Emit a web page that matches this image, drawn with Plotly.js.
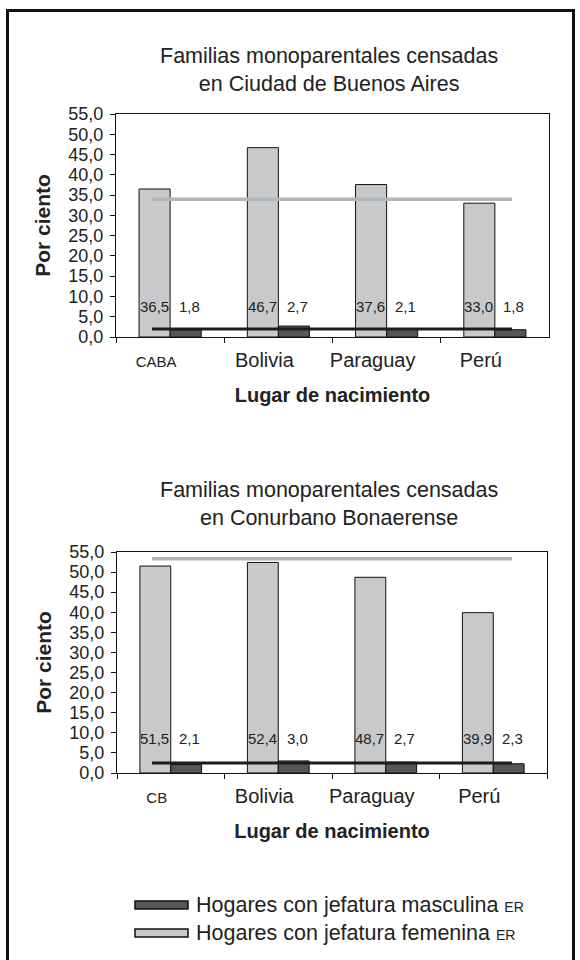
<!DOCTYPE html>
<html>
<head>
<meta charset="utf-8">
<script src="https://cdn.plot.ly/plotly-3.0.1.min.js"></script>
<style>
  html, body { margin: 0; padding: 0; background: #fff; }
  #wrap { position: relative; width: 580px; height: 960px; overflow: hidden; }
  #chart { position: absolute; left: 0; top: 0; width: 580px; height: 960px; }
  #frame {
    position: absolute; left: 6px; top: 9px; width: 569px; height: 1000px;
    box-sizing: border-box; border: 3px solid #111; pointer-events: none;
  }
</style>
</head>
<body>
<div id="wrap">
  <div id="chart"></div>
  <div id="frame"></div>
</div>
<script>
// data
const categoriesCABA = ["CABA", "Bolivia", "Paraguay", "Perú"];
const categoriesCB = ["CB", "Bolivia", "Paraguay", "Perú"];
const femeninaCABA = [36.5, 46.7, 37.6, 33.0];
const masculinaCABA = [1.8, 2.7, 2.1, 1.8];
const femeninaCB = [51.5, 52.4, 48.7, 39.9];
const masculinaCB = [2.1, 3.0, 2.7, 2.3];
// ER reference lines
const lineIndex = [0, 1, 2, 3];
const erFemeninaCABA = [34.0, 34.0, 34.0, 34.0];
const erMasculinaCABA = [2.0, 2.0, 2.0, 2.0];
const erFemeninaCB = [53.3, 53.3, 53.3, 53.3];
const erMasculinaCB = [2.5, 2.5, 2.5, 2.5];

const FONT = "Liberation Sans, Arial, Helvetica, sans-serif";
const INK = "#222";
const FEM = "#c8c9cb";
const MASC = "#555656";

const W = 580, H = 960;
const px = (x) => x / W;
const py = (y) => 1 - y / H;
const fmt = (v) => v.toFixed(1).replace(".", ",");
const small = (s, size) => '<span style="font-size:' + (size || 14) + 'px">' + s + "</span>";

function bars(cats, vals, color, name, xa, ya) {
  return {
    type: "bar", x: cats, y: vals, name: name, xaxis: xa, yaxis: ya,
    marker: { color: color, line: { color: "#111", width: 1 } },
    hoverinfo: "x+y",
  };
}

function line(vals, color, width, xa, ya) {
  return {
    type: "scatter", mode: "lines", x: lineIndex, y: vals, xaxis: xa, yaxis: ya,
    line: { color: color, width: width }, hoverinfo: "skip",
  };
}

const data = [
  bars(categoriesCABA, femeninaCABA, FEM, "Hogares con jefatura femenina", "x", "y"),
  bars(categoriesCABA, masculinaCABA, MASC, "Hogares con jefatura masculina", "x", "y"),
  line(erFemeninaCABA, "#b3b6b9", 3.5, "x2", "y"),
  line(erMasculinaCABA, "#1c1c1c", 3, "x2", "y"),
  bars(categoriesCB, femeninaCB, FEM, "Hogares con jefatura femenina", "x3", "y2"),
  bars(categoriesCB, masculinaCB, MASC, "Hogares con jefatura masculina", "x3", "y2"),
  line(erFemeninaCB, "#b3b6b9", 3.5, "x4", "y2"),
  line(erMasculinaCB, "#1c1c1c", 3, "x4", "y2"),
];

function catAxis(cats, domain, anchor) {
  return {
    domain: domain, anchor: anchor, type: "category",
    tickmode: "array", tickvals: cats,
    ticktext: cats.map((c, i) => (i === 0 ? small(c, 15) : c)),
    ticks: "outside", ticklen: 5, tickcolor: "#111", tickson: "boundaries",
    ticklabelstandoff: 5,
    showline: true, linecolor: "#111", linewidth: 1, mirror: true,
    showgrid: false, zeroline: false,
    tickfont: { family: FONT, size: 20, color: INK },
    ticklabelshift: -14,
    title: {
      text: "Lugar de nacimiento", standoff: 17,
      font: { family: FONT, size: 20, color: INK, weight: 700 },
    },
  };
}

function valAxis(domain, anchor) {
  return {
    domain: domain, anchor: anchor, range: [0, 55], dtick: 5, tick0: 0,
    tickformat: ".1f", ticks: "outside", ticklen: 5, tickcolor: "#111",
    ticklabelstandoff: 3,
    showline: true, linecolor: "#111", linewidth: 1, mirror: true,
    showgrid: false, zeroline: false,
    tickfont: { family: FONT, size: 18, color: INK },
    title: {
      text: "Por ciento", standoff: 12,
      font: { family: FONT, size: 21, color: INK, weight: 700 },
    },
  };
}

function lineAxis(over, domain, anchor, range) {
  return { overlaying: over, domain: domain, anchor: anchor, range: range, visible: false };
}

const dom1 = [px(116), px(549)];
const dom2 = [px(117), px(547)];

// value labels sit in a row near the bottom of each plot
function labels(cats, fem, masc, xref, yref, level) {
  const out = [];
  cats.forEach((c, i) => {
    out.push({ xref: xref, yref: yref, x: c, y: level, xshift: -16, text: fmt(fem[i]), showarrow: false,
      font: { family: FONT, size: 15, color: INK } });
    out.push({ xref: xref, yref: yref, x: c, y: level, xshift: 19, text: fmt(masc[i]), showarrow: false,
      font: { family: FONT, size: 15, color: INK } });
  });
  return out;
}

function title(lines, yTop) {
  return {
    xref: "paper", yref: "paper", x: px(329), y: py(yTop), xanchor: "center", yanchor: "top",
    text: lines.join("<br>"), showarrow: false,
    font: { family: FONT, size: 21.5, color: INK },
  };
}

function legendKey(color, yc) {
  return {
    type: "rect", xref: "paper", yref: "paper",
    x0: px(135), x1: px(188), y0: py(yc - 4), y1: py(yc + 4),
    fillcolor: color, line: { color: "#111", width: 1.5 },
  };
}

function legendText(label, yc) {
  return {
    xref: "paper", yref: "paper", x: px(194), y: py(yc), xanchor: "left", yanchor: "middle",
    text: label + " " + small("ER", 14), showarrow: false,
    font: { family: FONT, size: 21.5, color: INK },
  };
}

const layout = {
  width: W, height: H,
  margin: { l: 0, r: 0, t: 0, b: 0 },
  paper_bgcolor: "#fff", plot_bgcolor: "#fff",
  showlegend: false,
  separators: ",.",
  barmode: "group", bargap: 0.426, bargroupgap: 0,
  font: { family: FONT, color: INK },
  xaxis: catAxis(categoriesCABA, dom1, "y"),
  xaxis2: lineAxis("x", dom1, "y", [-0.3, 3.308]),
  yaxis: valAxis([py(337), py(114)], "x"),
  xaxis3: catAxis(categoriesCB, dom2, "y2"),
  xaxis4: lineAxis("x3", dom2, "y2", [-0.292, 3.292]),
  yaxis2: valAxis([py(773), py(552)], "x3"),
  shapes: [
    legendKey(MASC, 905),
    legendKey(FEM, 933),
  ],
  annotations: [
    title(["Familias monoparentales censadas", "en Ciudad de Buenos Aires"], 42),
    title(["Familias monoparentales censadas", "en Conurbano Bonaerense"], 476),
    ...labels(categoriesCABA, femeninaCABA, masculinaCABA, "x", "y", 7.5),
    ...labels(categoriesCB, femeninaCB, masculinaCB, "x3", "y2", 8.5),
    legendText("Hogares con jefatura masculina", 905),
    legendText("Hogares con jefatura femenina", 933),
  ],
};

Plotly.newPlot("chart", data, layout, { displayModeBar: false, staticPlot: true });
</script>
</body>
</html>
